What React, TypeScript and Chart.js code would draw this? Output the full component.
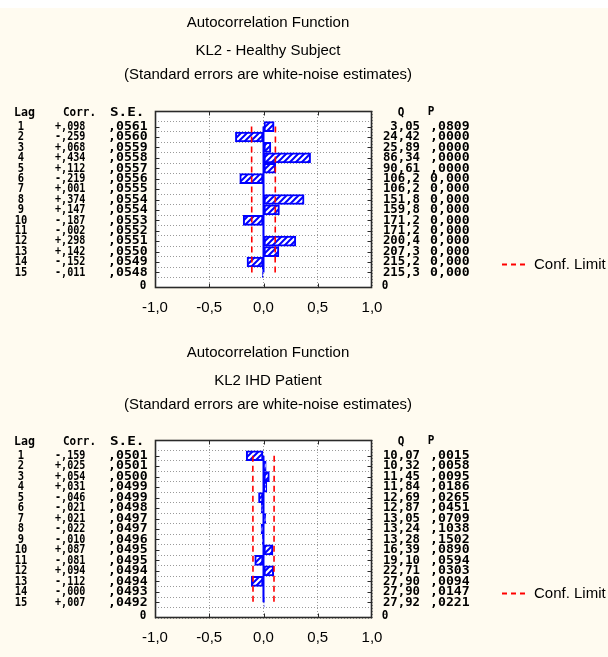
import React, { useEffect, useRef } from 'react';
import { Chart, registerables } from 'chart.js';

Chart.register(...registerables);

// ---------- data ----------
const lags = [1, 2, 3, 4, 5, 6, 7, 8, 9, 10, 11, 12, 13, 14, 15];

const corrHealthy = [0.098, -0.259, 0.068, 0.434, 0.112, -0.219, 0.001, 0.374, 0.147, -0.187, -0.002, 0.298, 0.142, -0.152, -0.011];
const seHealthy = [0.0561, 0.056, 0.0559, 0.0558, 0.0557, 0.0556, 0.0555, 0.0554, 0.0554, 0.0553, 0.0552, 0.0551, 0.055, 0.0549, 0.0548];
const qHealthy = ['3,05', '24,42', '25,89', '86,34', '90,61', '106,2', '106,2', '151,8', '159,8', '171,2', '171,2', '200,4', '207,3', '215,2', '215,3'];
const pHealthy = [',0809', ',0000', ',0000', ',0000', ',0000', '0,000', '0,000', '0,000', '0,000', '0,000', '0,000', '0,000', '0,000', '0,000', '0,000'];

const corrIHD = [-0.159, 0.025, 0.054, 0.031, -0.046, -0.021, 0.021, -0.022, -0.01, 0.087, -0.081, 0.094, -0.112, -0.0004, 0.007];
const seIHD = [0.0501, 0.0501, 0.05, 0.0499, 0.0499, 0.0498, 0.0497, 0.0497, 0.0496, 0.0495, 0.0495, 0.0494, 0.0494, 0.0493, 0.0492];
const qIHD = ['10,07', '10,32', '11,45', '11,84', '12,69', '12,87', '13,05', '13,24', '13,28', '16,39', '19,10', '22,71', '27,90', '27,90', '27,92'];
const pIHD = [',0015', ',0058', ',0095', ',0186', ',0265', ',0451', ',0709', ',1038', ',1502', ',0890', ',0594', ',0303', ',0094', ',0147', ',0221'];

const xTickValues = [-1, -0.5, 0, 0.5, 1];
const titleMain = 'Autocorrelation Function';
const subtitleHealthy = ['KL2 - Healthy Subject', '(Standard errors are white-noise estimates)'];
const subtitleIHD = ['KL2 IHD Patient', '(Standard errors are white-noise estimates)'];
const legendLabel = 'Conf. Limit';
const confZ = 1.96;

// ---------- styles ----------
const CREAM = '#FFFBF0';
const SANS = "'Liberation Sans', Arial, sans-serif";
const MONO = "'DejaVu Sans Mono', 'Liberation Mono', monospace";

function fmtCorr(v: number) {
  const s = v < 0 ? '-' : '+';
  return s + ',' + String(Math.round(Math.abs(v) * 1000)).padStart(3, '0');
}
function fmtSE(v: number) {
  return ',' + String(Math.round(v * 10000)).padStart(4, '0');
}
function fmtTick(v: number) {
  return v.toFixed(1).replace('.', ',');
}

function makeHatch(ctx: CanvasRenderingContext2D) {
  const c = document.createElement('canvas');
  c.width = 6;
  c.height = 6;
  const g = c.getContext('2d')!;
  g.fillStyle = '#ffffff';
  g.fillRect(0, 0, 6, 6);
  g.strokeStyle = '#0000FF';
  g.lineWidth = 2;
  g.beginPath();
  g.moveTo(0, 6); g.lineTo(6, 0);
  g.moveTo(-3, 3); g.lineTo(3, -3);
  g.moveTo(3, 9); g.lineTo(9, 3);
  g.stroke();
  return ctx.createPattern(c, 'repeat')!;
}

function drawText(ctx: CanvasRenderingContext2D, text: string, x: number, y: number, align: CanvasTextAlign, sx: number, sy = 1.15) {
  ctx.save();
  ctx.translate(x, y);
  ctx.scale(sx, sy);
  ctx.textAlign = align;
  ctx.textBaseline = 'middle';
  ctx.fillText(text, 0, 0);
  ctx.restore();
}

interface AcfData {
  key: string;
  corr: number[];
  se: number[];
  q: string[];
  p: string[];
  subtitle: string[];
  subPadBottom: number;
}

function makePlugin(d: AcfData) {
  return {
    id: 'acf' + d.key,
    beforeDraw(chart: any) {
      const { ctx, chartArea: a } = chart;
      ctx.save();
      ctx.fillStyle = '#ffffff';
      ctx.fillRect(a.left, a.top, a.right - a.left, a.bottom - a.top);
      ctx.restore();
    },
    afterDraw(chart: any) {
      const { ctx, chartArea: a } = chart;
      const ys = chart.scales.y;
      const xs = chart.scales.x;
      ctx.save();
      // frame
      ctx.strokeStyle = '#2a2a2a';
      ctx.lineWidth = 1.6;
      ctx.setLineDash([]);
      const L = Math.round(a.left) + 0.5, T = Math.round(a.top) + 0.5;
      const R = Math.round(a.right) - 0.5, B = Math.round(a.bottom) - 0.5;
      ctx.strokeRect(L, T, R - L, B - T);
      // inner tick marks
      ctx.lineWidth = 1;
      ctx.beginPath();
      lags.forEach((lag) => {
        const py = Math.round(ys.getPixelForValue(lag)) + 0.5;
        ctx.moveTo(L, py); ctx.lineTo(L + 4, py);
        ctx.moveTo(R - 4, py); ctx.lineTo(R, py);
      });
      xTickValues.slice(1, -1).forEach((v) => {
        const px = Math.round(xs.getPixelForValue(v)) + 0.5;
        ctx.moveTo(px, T); ctx.lineTo(px, T + 4);
        ctx.moveTo(px, B - 4); ctx.lineTo(px, B);
      });
      ctx.stroke();

      // table text
      ctx.fillStyle = '#000';
      ctx.font = `bold 11px ${MONO}`;
      drawText(ctx, 'Lag', 14, a.top + 2, 'left', 1.05);
      drawText(ctx, 'Corr.', 63, a.top + 2, 'left', 1.0);
      drawText(ctx, 'S.E.', 110, a.top + 2, 'left', 1.3);
      drawText(ctx, 'Q', 401, a.top + 2, 'center', 1.0);
      drawText(ctx, 'P', 431, a.top + 1, 'center', 1.0);
      lags.forEach((lag, i) => {
        const py = ys.getPixelForValue(lag);
        drawText(ctx, String(lag), 21, py, 'center', 0.95);
        drawText(ctx, fmtCorr(d.corr[i]), 55, py, 'left', 0.92);
        drawText(ctx, fmtSE(d.se[i]), 108, py, 'left', 1.2);
        drawText(ctx, d.q[i], 420, py, 'right', 1.12);
        drawText(ctx, d.p[i], 430, py, 'left', 1.2);
      });
      drawText(ctx, '0', 143, a.bottom - 2, 'center', 1.0);
      drawText(ctx, '0', 385, a.bottom - 2, 'center', 1.0);

      // legend
      const ly = Math.round(a.top + 153) + 0.5;
      ctx.strokeStyle = '#FF0000';
      ctx.lineWidth = 2;
      ctx.setLineDash([5, 4]);
      ctx.beginPath();
      ctx.moveTo(502, ly);
      ctx.lineTo(528, ly);
      ctx.stroke();
      ctx.setLineDash([]);
      ctx.font = `15px ${SANS}`;
      ctx.textAlign = 'left';
      ctx.textBaseline = 'middle';
      ctx.fillText(legendLabel, 534, ly);
      ctx.restore();
    },
  };
}

function buildChart(canvas: HTMLCanvasElement, d: AcfData) {
  const ctx = canvas.getContext('2d')!;
  const hatch = makeHatch(ctx);
  const bars = lags.map((lag, i) => ({ x: d.corr[i], y: lag }));
  const confPos = lags.map((lag, i) => ({ x: confZ * d.se[i], y: lag }));
  const confNeg = lags.map((lag, i) => ({ x: -confZ * d.se[i], y: lag }));
  const zero = lags.map((lag) => ({ x: 0, y: lag }));

  return new Chart(canvas, {
    type: 'bar',
    data: {
      datasets: [
        { type: 'line', label: legendLabel, data: confPos, borderColor: '#FF0000', borderWidth: 1.6, borderDash: [6, 4], pointRadius: 0, fill: false } as any,
        { type: 'line', label: legendLabel + ' (-)', data: confNeg, borderColor: '#FF0000', borderWidth: 1.6, borderDash: [6, 4], pointRadius: 0, fill: false } as any,
        { type: 'line', label: 'zero', data: zero, borderColor: '#0000FF', borderWidth: 2, pointRadius: 0, fill: false } as any,
        { type: 'bar', label: 'Corr.', data: bars, backgroundColor: hatch, borderColor: '#0000FF', borderWidth: 2, borderSkipped: false, barThickness: 10 } as any,
      ],
    },
    options: {
      indexAxis: 'y',
      animation: false,
      responsive: false,
      devicePixelRatio: 1,
      events: [],
      layout: { padding: { left: 124, right: 196, top: 0, bottom: 10 } },
      scales: {
        x: {
          type: 'linear',
          min: -1,
          max: 1,
          position: 'bottom',
          afterBuildTicks: (scale: any) => {
            scale.ticks = xTickValues.map((v) => ({ value: v }));
          },
          ticks: {
            callback: (v: any) => fmtTick(Number(v)),
            color: '#000',
            font: { family: SANS, size: 15 },
            padding: 11,
            maxRotation: 0,
            autoSkip: false,
          },
          grid: { color: '#9A9A9A', lineWidth: 1, drawTicks: false },
          border: { display: false, dash: [1, 2] },
        },
        y: {
          type: 'linear',
          min: 0,
          max: 16,
          reverse: true,
          position: 'left',
          afterFit: (s: any) => { s.width = 31; },
          ticks: { display: false, stepSize: 1 },
          grid: { color: '#9A9A9A', lineWidth: 1, drawTicks: false },
          border: { display: false, dash: [1, 2] },
        },
        y2: {
          type: 'linear',
          position: 'right',
          afterFit: (s: any) => { s.width = 40; },
          ticks: { display: false },
          grid: { drawOnChartArea: false, drawTicks: false },
          border: { display: false },
        },
      },
      plugins: {
        legend: { display: false },
        tooltip: { enabled: false },
        title: {
          display: true,
          text: titleMain,
          color: '#000',
          font: { family: SANS, size: 15, weight: 'normal', lineHeight: 1.2 },
          padding: { top: 6, bottom: 1 },
        },
        subtitle: {
          display: true,
          text: d.subtitle,
          color: '#000',
          font: { family: SANS, size: 15, weight: 'normal', lineHeight: 1.6 },
          padding: { top: 6, bottom: d.subPadBottom },
        },
      },
    } as any,
    plugins: [makePlugin(d)],
  });
}

export default function App() {
  const c1 = useRef<HTMLCanvasElement>(null);
  const c2 = useRef<HTMLCanvasElement>(null);

  useEffect(() => {
    document.body.style.margin = '0';
    document.body.style.overflow = 'hidden';
    const ch1 = buildChart(c1.current!, {
      key: 'h', corr: corrHealthy, se: seHealthy, q: qHealthy, p: pHealthy, subtitle: subtitleHealthy, subPadBottom: 24,
    });
    const ch2 = buildChart(c2.current!, {
      key: 'i', corr: corrIHD, se: seIHD, q: qIHD, p: pIHD, subtitle: subtitleIHD, subPadBottom: 23,
    });
    return () => {
      ch1.destroy();
      ch2.destroy();
    };
  }, []);

  return (
    <div style={{ width: 608, height: 657, overflow: 'hidden', background: CREAM }}>
      <div style={{ height: 8, background: '#ffffff' }} />
      <canvas ref={c1} width={608} height={330} style={{ display: 'block' }} />
      <canvas ref={c2} width={608} height={330} style={{ display: 'block' }} />
    </div>
  );
}
